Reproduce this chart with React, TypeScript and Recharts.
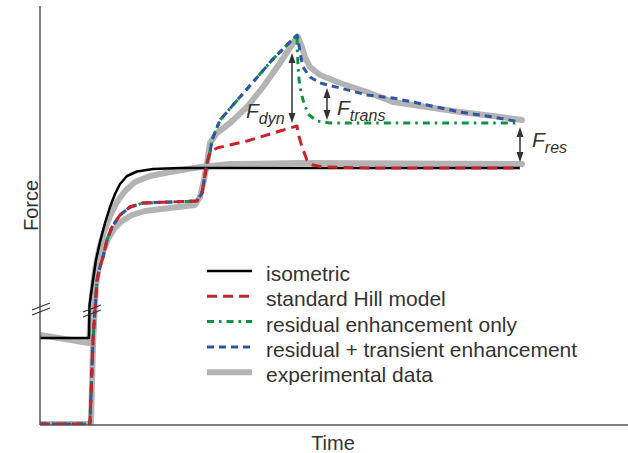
import React from 'react';
import { LineChart, Line, XAxis, YAxis, ReferenceLine, ReferenceDot, Legend, Label } from 'recharts';

type Pt = [number, number];

// Time (arbitrary units) / Force (arbitrary units)
const isometricPts: Pt[] = [[0, 87], [49, 87], [49.5, 120], [53, 145], [56, 165], [60, 183], [65, 202], [70, 218], [75, 231], [80, 241], [87, 249], [97, 253.5], [113, 256], [140, 257], [480, 257]];
const stretchOnsetPts: Pt[] = [[0, 1], [49, 1], [50, 2], [53, 85], [57, 145], [60, 158], [63, 168], [67, 185], [72, 198], [80, 210], [90, 218], [103, 222], [130, 223], [157, 224], [162, 232], [165, 250], [167, 262], [170, 273]];
const hillTailPts: Pt[] = [[177, 277], [207, 284], [240, 294], [257, 299], [258, 292], [262, 278], [267, 265], [273, 260], [283, 258], [330, 257], [480, 257]];
const rampPts: Pt[] = [[172, 285], [180, 305], [207, 336], [233, 366], [257, 390]];
const residualTailPts: Pt[] = [[257.3, 375], [258, 360], [259, 345], [261, 333], [263, 325], [268, 311], [277, 304], [290, 302], [480, 302]];
const transientTailPts: Pt[] = [[258, 387], [260, 372], [263, 358], [270, 348], [280, 342], [300, 337], [327, 330], [353, 327], [387, 320], [420, 313], [453, 308], [480, 303]];
const expIsometricPts: Pt[] = [[0, 90], [49, 82], [50, 100], [52, 130], [55, 155], [59, 175], [64, 193], [70, 209], [77, 223], [85, 234], [95, 243], [110, 249], [130, 253], [160, 258], [190, 261], [260, 262], [482, 261]];
const expStretchPts: Pt[] = [[0, 1], [49, 1], [51, 2], [53, 80], [56, 140], [59, 160], [63, 173], [68, 186], [74, 196], [82, 204], [92, 210], [105, 214], [130, 217], [155, 220], [160, 228], [164, 245], [167, 262], [170, 282], [177, 292], [190, 302], [207, 318], [223, 338], [240, 362], [253, 382], [258, 388], [262, 378], [265, 368], [270, 358], [280, 350], [300, 342], [327, 333], [353, 323], [387, 318], [420, 313], [453, 309], [482, 305]];

const legendLabels = ['isometric', 'standard Hill model', 'residual enhancement only', 'residual + transient enhancement', 'experimental data'];

// annotation arrows: [time, force from, force to]
const arrowSpans: Pt[][] = [[[252, 302], [252, 372]], [[287, 305], [287, 337]], [[480, 263], [480, 298]]];
const forceLabels: { t: number; f: number; sub: string }[] = [
  { t: 206, f: 307, sub: 'dyn' },
  { t: 297, f: 310, sub: 'trans' },
  { t: 492, f: 278, sub: 'res' },
];
const axisBreaks: Pt[] = [[1, 116], [52, 114]];

const rows = (pts: Pt[]) => pts.map(([t, f]) => ({ t, f }));

const hillData = rows([...stretchOnsetPts, ...hillTailPts]);
const residualData = rows([...stretchOnsetPts, ...rampPts, ...residualTailPts]);
const transientData = rows([...stretchOnsetPts, ...rampPts, ...transientTailPts]);

const FONT = '"Liberation Sans", Arial, Helvetica, sans-serif';
const TXT = '#333333';
const C = {
  black: '#000000',
  red: '#c8232c',
  green: '#0b9444',
  blue: '#2f56a6',
  gray: '#b4b4b4',
};

const styles = [
  { stroke: C.black, width: 2.5, dash: undefined as string | undefined },
  { stroke: C.red, width: 3, dash: '10 6' },
  { stroke: C.green, width: 3, dash: '7 5 2.5 5' },
  { stroke: C.blue, width: 3, dash: '7 5' },
  { stroke: C.gray, width: 6, dash: undefined as string | undefined },
];

const ArrowShape = (p: any) => {
  const x = p.x1;
  const top = Math.min(p.y1, p.y2);
  const bot = Math.max(p.y1, p.y2);
  return (
    <g>
      <line x1={x} y1={top + 6} x2={x} y2={bot - 6} stroke={TXT} strokeWidth={1.5} />
      <path d={`M${x},${top} L${x - 3.5},${top + 10} L${x + 3.5},${top + 10} Z`} fill={TXT} />
      <path d={`M${x},${bot} L${x - 3.5},${bot - 10} L${x + 3.5},${bot - 10} Z`} fill={TXT} />
    </g>
  );
};

const makeFLabel = (sub: string) => (p: any) => (
  <text x={p.cx} y={p.cy} fontFamily={FONT} fontStyle="italic" fill={TXT}>
    <tspan fontSize={21}>F</tspan>
    <tspan fontSize={16} dy={6}>{sub}</tspan>
  </text>
);

const BreakShape = (p: any) => {
  const { cx, cy } = p;
  return (
    <g stroke={TXT} strokeWidth={1.3}>
      <line x1={cx - 9} y1={cy + 1} x2={cx + 9} y2={cy - 6} />
      <line x1={cx - 9} y1={cy + 6} x2={cx + 9} y2={cy - 1} />
    </g>
  );
};

const LegendContent = () => (
  <svg width={420} height={130} style={{ display: 'block' }}>
    {legendLabels.map((label, i) => {
      const y = 16 + i * 25.3;
      const s = styles[i];
      return (
        <g key={label}>
          <line x1={7} x2={52} y1={y} y2={y} stroke={s.stroke} strokeWidth={s.width} strokeDasharray={s.dash} />
          <text x={66} y={y + 10} fontFamily={FONT} fontSize={21} fill={TXT}>{label}</text>
        </g>
      );
    })}
  </svg>
);

const YTitle = (p: any) => {
  const vb = p.viewBox;
  const x = vb.x + 38;
  const y = vb.y + vb.height / 2 - 10;
  return (
    <text x={x} y={y} transform={`rotate(-90, ${x}, ${y})`} textAnchor="middle" fontFamily={FONT} fontSize={20} fill={TXT}>Force</text>
  );
};

const XTitle = (p: any) => {
  const vb = p.viewBox;
  return (
    <text x={vb.x + vb.width / 2 - 1} y={vb.y + 25} textAnchor="middle" fontFamily={FONT} fontSize={20} fill={TXT}>Time</text>
  );
};

export default function App() {
  const common = { dot: false, activeDot: false, isAnimationActive: false, strokeLinejoin: 'round' as const };
  return (
    <div style={{ position: 'absolute', left: 0, top: 0, background: '#fff' }}>
      <LineChart width={628} height={453} margin={{ top: 6, right: 0, bottom: 0, left: 0 }}>
        <XAxis type="number" dataKey="t" domain={[0, 588]} allowDataOverflow tick={false} tickLine={false} height={28} axisLine={{ stroke: '#555', strokeWidth: 1.5 }}>
          <Label content={XTitle} />
        </XAxis>
        <YAxis type="number" dataKey="f" domain={[0, 419]} allowDataOverflow tick={false} tickLine={false} width={40} axisLine={{ stroke: '#555', strokeWidth: 1.5 }}>
          <Label content={YTitle} />
        </YAxis>
        <Line {...common} data={rows(expIsometricPts)} dataKey="f" name="experimental data" stroke={C.gray} strokeWidth={6} strokeLinecap="round" legendType="none" />
        <Line {...common} data={rows(expStretchPts)} dataKey="f" name="experimental data" stroke={C.gray} strokeWidth={6} strokeLinecap="round" />
        <Line {...common} data={rows(isometricPts)} dataKey="f" name="isometric" stroke={C.black} strokeWidth={2.5} />
        <Line {...common} data={residualData} dataKey="f" name="residual enhancement only" stroke={C.green} strokeWidth={3} strokeDasharray="7 5 2.5 5" />
        <Line {...common} data={transientData} dataKey="f" name="residual + transient enhancement" stroke={C.blue} strokeWidth={3} strokeDasharray="7 5" />
        <Line {...common} data={hillData} dataKey="f" name="standard Hill model" stroke={C.red} strokeWidth={3} strokeDasharray="10 6" />
        {arrowSpans.map((seg, i) => (
          <ReferenceLine key={'a' + i} segment={[{ x: seg[0][0], y: seg[0][1] }, { x: seg[1][0], y: seg[1][1] }]} ifOverflow="visible" shape={ArrowShape} />
        ))}
        {forceLabels.map((l) => (
          <ReferenceDot key={l.sub} x={l.t} y={l.f} r={0} ifOverflow="visible" shape={makeFLabel(l.sub)} />
        ))}
        {axisBreaks.map((b, i) => (
          <ReferenceDot key={'b' + i} x={b[0]} y={b[1]} r={0} ifOverflow="visible" shape={BreakShape} />
        ))}
        <Legend layout="vertical" align="center" verticalAlign="middle" wrapperStyle={{ left: 200, top: 255, width: 420, height: 130 }} content={LegendContent} />
      </LineChart>
    </div>
  );
}
